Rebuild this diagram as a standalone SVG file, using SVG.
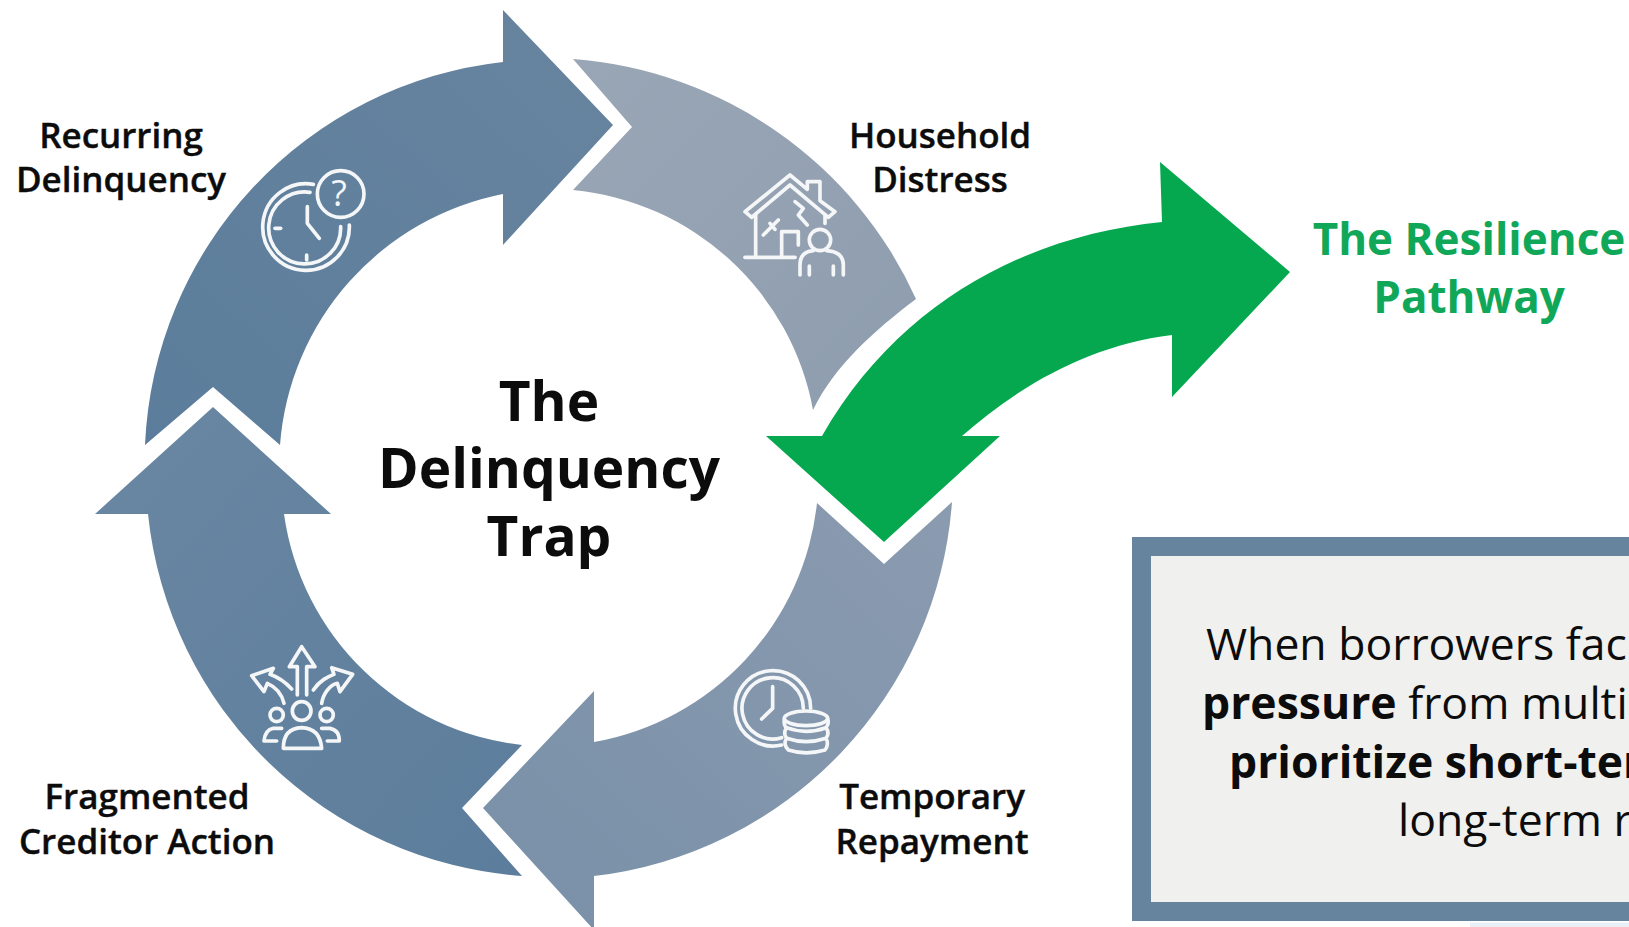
<svg xmlns="http://www.w3.org/2000/svg" width="1629" height="927" viewBox="0 0 1629 927">
<defs>
<linearGradient id="gRec" x1="0" y1="1" x2="1" y2="0"><stop offset="0" stop-color="#5b7d9b"/><stop offset="1" stop-color="#68849f"/></linearGradient>
<linearGradient id="gHou" x1="0" y1="0" x2="1" y2="1"><stop offset="0" stop-color="#99a6b6"/><stop offset="1" stop-color="#8e9dae"/></linearGradient>
<linearGradient id="gTem" x1="1" y1="0" x2="0" y2="1"><stop offset="0" stop-color="#8b9bb0"/><stop offset="1" stop-color="#7890a8"/></linearGradient>
<linearGradient id="gFra" x1="0" y1="0" x2="1" y2="1"><stop offset="0" stop-color="#6a87a2"/><stop offset="1" stop-color="#5c7d9c"/></linearGradient>
</defs>
<style>
text{font-family:"Open Sans","Noto Sans","Liberation Sans",sans-serif;fill:#0c0c0c}
.lbl{font-size:35px;font-weight:600;text-anchor:middle;stroke:#0c0c0c;stroke-width:.4}
.ttl{font-size:55px;font-weight:700;text-anchor:middle}
.grn{font-size:44px;font-weight:700;text-anchor:middle;fill:#10a858}
.box{font-size:44.5px;font-weight:400}
.b{font-weight:700}
.ic{fill:none;stroke:#f4f6f8;stroke-width:7;stroke-linecap:round;stroke-linejoin:round}
</style>
<rect width="1629" height="927" fill="#fff"/>
<g id="connectors">
<path id="seg-recurring" fill="url(#gRec)" d="M145 445 A403 403 0 0 1 503 62 V10 L613 125 L503 245 V194 A277 277 0 0 0 280 445 L213 387 Z"/>
<path id="seg-household" fill="url(#gHou)" d="M573 59 A410 410 0 0 1 916 299 C875 330 835 365 813 410 A270 270 0 0 0 573 190 L632 127 Z"/>
<path id="seg-temporary" fill="url(#gTem)" d="M952 502 A406 406 0 0 1 594 876 V930 L483 808 L594 691 V742 A272 272 0 0 0 817 503 L884 564 Z"/>
<path id="seg-fragmented" fill="url(#gFra)" d="M522 745 A270 270 0 0 1 284 514 H331 L213 407 L95 514 H148 A405 405 0 0 0 522 876 L462 808 Z"/>
<path id="green-arrow" fill="#05a84f" d="M1290 272 L1160 162 L1162 222 C1030 235 900 300 822 436 H766 L884 542 L1000 436 H962 C1020 385 1090 345 1172 335 L1172 397 Z"/>
</g>
<g id="node-recurring">
<text class="lbl" x="121" y="148">Recurring</text>
<text class="lbl" x="121" y="192">Delinquency</text>
<g class="ic" transform="translate(250,160) scale(.3333)" style="stroke-width:11">
<path d="M190 73 A130 130 0 1 0 298 195"/><path d="M180 97 A108 108 0 1 0 272 200"/>
<path d="M172 140 V190 L208 235"/><path d="M75 205 H92"/><path d="M170 285 V300"/>
<circle cx="272" cy="102" r="70"/>
</g>
<text x="339" y="206" text-anchor="middle" style="font-size:36px;fill:#f4f6f8;font-weight:400">?</text>
</g>
<g id="node-household">
<text class="lbl" x="940" y="148">Household</text>
<text class="lbl" x="940" y="192">Distress</text>
<g class="ic" transform="translate(720,160) scale(.3333)" style="stroke-width:11">
<path d="M75 155 L210 45 L262 88 V65 H300 V122 L345 155 L325 172 L210 75 L95 172 Z"/>
<path d="M107 165 V290"/><path d="M75 292 H225"/><path d="M315 165 V190"/>
<path d="M185 290 V215 H235 V255"/><path d="M225 125 L250 145 L235 165 L262 195"/>
<path d="M130 225 L175 180 M150 190 L165 208"/>
<circle cx="300" cy="240" r="32"/>
<path d="M240 345 V315 Q240 275 280 272 M320 272 Q370 275 370 315 V345 M268 345 V318 M340 345 V318"/>
</g>
</g>
<g id="node-temporary">
<text class="lbl" x="932" y="809">Temporary</text>
<text class="lbl" x="932" y="854">Repayment</text>
<g class="ic" transform="translate(720,655) scale(.3333)" style="stroke-width:11">
<path d="M272 160 A113 113 0 1 0 185 270"/><path d="M250 160 A92 92 0 1 0 185 248"/>
<path d="M158 95 V160 L125 192"/>
<ellipse cx="258" cy="190" rx="65" ry="22"/>
<path d="M193 192 Q190 212 200 218 Q258 240 318 218 Q328 205 323 192"/>
<path d="M200 218 Q188 235 200 250 Q258 270 318 250 Q330 235 318 218"/>
<path d="M200 250 Q188 268 205 285 Q258 302 315 285 Q328 268 318 250"/>
</g>
</g>
<g id="node-fragmented">
<text class="lbl" x="147" y="809">Fragmented</text>
<text class="lbl" x="147" y="854">Creditor Action</text>
<g class="ic" transform="translate(240,635) scale(.3333)" style="stroke-width:11">
<path d="M172 180 V95 H148 L185 35 L225 95 H200 V180"/>
<path d="M155 162 C130 135 110 125 90 118 L100 100 L35 122 L72 170 L82 145 C105 155 125 175 132 205"/>
<path d="M220 165 C240 135 265 125 282 118 L275 98 L338 118 L300 170 L292 145 C270 150 250 175 245 205"/>
<circle cx="185" cy="228" r="28"/><circle cx="110" cy="240" r="20"/><circle cx="260" cy="240" r="20"/>
<path d="M130 340 Q130 280 185 278 Q240 280 245 340 Z"/>
<path d="M125 280 H100 Q75 285 72 318 H110 M245 280 H270 Q298 285 298 318 H262"/>
</g>
</g>
<g id="node-title">
<text class="ttl" x="549" y="421">The</text>
<text class="ttl" x="549" y="488">Delinquency</text>
<text class="ttl" x="549" y="556">Trap</text>
</g>
<g id="node-resilience">
<text class="grn" x="1469" y="255">The Resilience</text>
<text class="grn" x="1469" y="313">Pathway</text>
</g>
<g id="node-callout">
<rect x="1141.500" y="546.500" width="500" height="365" fill="#f0f0ef" stroke="#67849f" stroke-width="19"/>
<rect x="1470" y="922.500" width="159" height="5" fill="#e9eff7"/>
<text class="box" x="1206" y="660">When borrowers fac</text>
<text class="box" x="1202" y="719"><tspan class="b">pressure</tspan> from multi</text>
<text class="box b" x="1229" y="778">prioritize short-ter</text>
<text class="box" x="1398" y="836">long-term r</text>
</g>
</svg>
